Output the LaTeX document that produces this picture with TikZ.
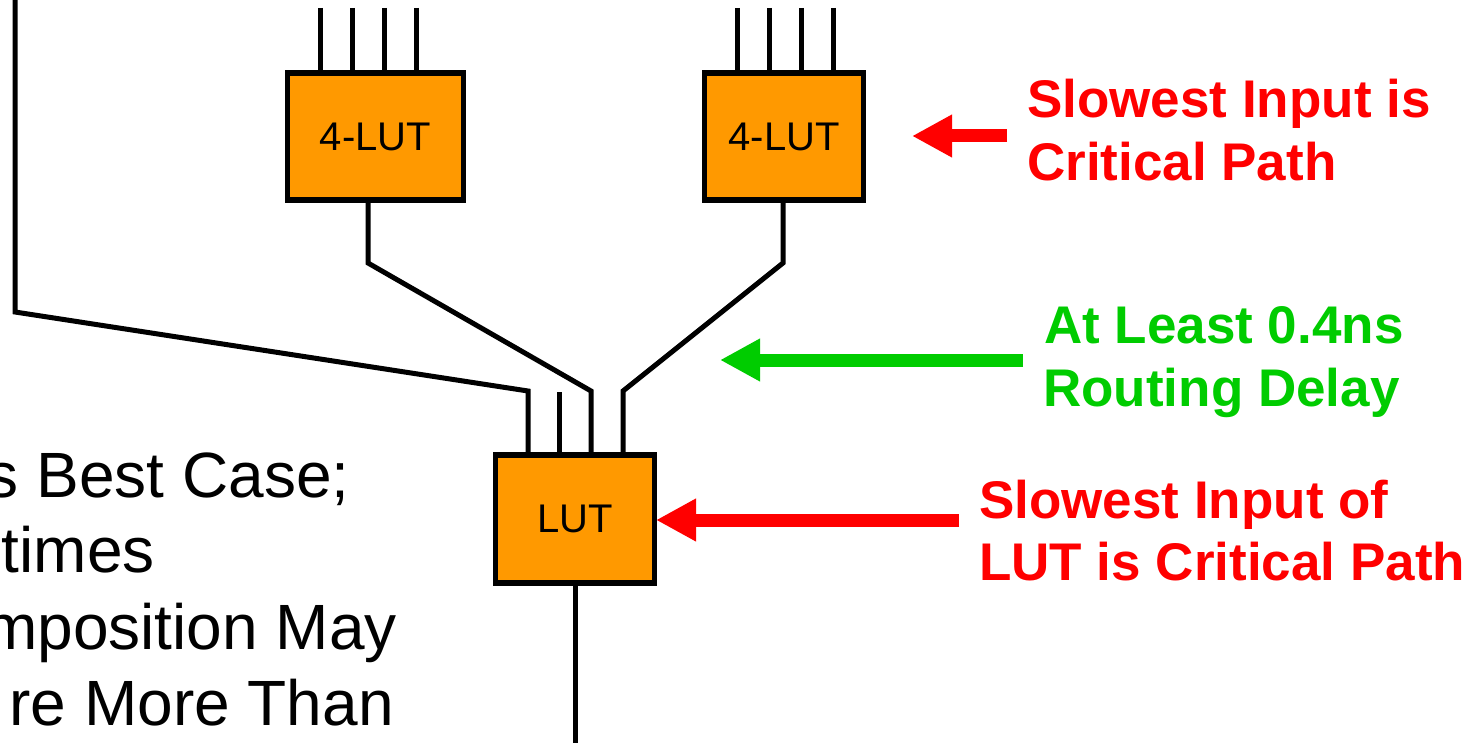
\documentclass[tikz,border=0pt]{standalone}
\usepackage{fontspec}
\setmainfont{Liberation Sans}
\usetikzlibrary{arrows.meta}
\definecolor{lutorange}{RGB}{255,153,0}
\definecolor{annred}{RGB}{255,0,0}
\definecolor{anngreen}{RGB}{0,204,0}
\begin{document}
\begin{tikzpicture}[x=1pt,y=-1pt,
  lutbox/.style={draw=black, line width=5.5pt, fill=lutorange, inner sep=0pt,
    font=\fontsize{40}{48}\selectfont},
  wire/.style={draw=black, line width=5pt},
  callout/.style={line width=13pt, -{Triangle[length=40pt,width=40pt]}},
  note/.style={anchor=base west, inner sep=0pt, font=\fontsize{53}{63}\selectfont\bfseries},
  body/.style={anchor=base east, inner sep=0pt, font=\fontsize{64}{76}\selectfont}]
\clip (0,0) rectangle (1480,743);
\fill[white] (0,0) rectangle (1480,743);

% LUT boxes
\node[lutbox, minimum width=176pt, minimum height=127pt] (lutA) at (375.5,136.5) {4-LUT};
\node[lutbox, minimum width=159pt, minimum height=127pt] (lutB) at (784,136.5) {4-LUT};
\node[lutbox, minimum width=159pt, minimum height=128pt] (lutC) at (575,519) {LUT};

% inputs of the 4-LUTs
\foreach \x in {320,352,384,416} \draw[wire] (\x,8) -- (\x,8 |- lutA.north);
\foreach \x in {737,769,801,833} \draw[wire] (\x,8) -- (\x,8 |- lutB.north);

% routing into the LUT
\coordinate (far) at (15,0);
\draw[wire] (far) -- (15,312) -- (528,391) -- (528,391 |- lutC.north);
\draw[wire] (559,392) -- (559,392 |- lutC.north);
\draw[wire] (368,0 |- lutA.south) -- (368,263) -- (591,391) -- (591,391 |- lutC.north);
\draw[wire] (783,0 |- lutB.south) -- (783,263) -- (623,391) -- (623,391 |- lutC.north);
\coordinate (outend) at (575,743);
\draw[wire] (lutC.south) -- (outend);

% callout arrows
\coordinate (tailA) at (1007,136); \coordinate (tipA) at (912,136);
\coordinate (tailB) at (1023,360); \coordinate (tipB) at (720,360);
\coordinate (tailC) at (959,520);  \coordinate (tipC) at (656,520);
\draw[callout, annred] (tailA) -- (tipA);
\draw[callout, anngreen] (tailB) -- (tipB);
\draw[callout, annred] (tailC) -- (tipC);

% annotations
\node[note, text=annred] (n1a) at (1027,118) {Slowest Input is};
\node[note, text=annred] (n1b) at (1027,181) {Critical Path};
\node[note, text=anngreen] (n2a) at (1044,343) {At Least 0.4ns};
\node[note, text=anngreen] (n2b) at (1043,406) {Routing Delay};
\node[note, text=annred] (n3a) at (979,518) {Slowest Input of};
\node[note, text=annred] (n3b) at (979,580) {LUT is Critical Path};

% body text (cut at the left edge)
\node[body] (b1) at (350,497) {s Best Case;};
\node[body] (b2) at (155,572) {times};
\node[body] (b3) at (397,649) {mposition May};
\node[body] (b4) at (394,725) {re More Than};
\end{tikzpicture}
\end{document}
